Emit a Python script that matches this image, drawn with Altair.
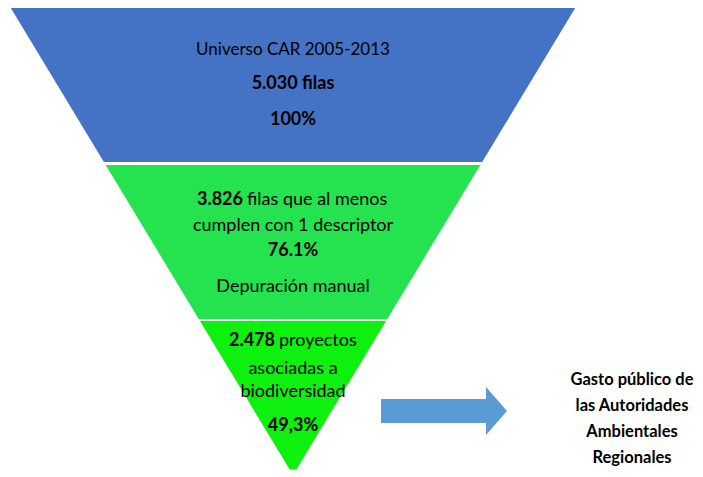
import altair as alt
import pandas as pd

# ---- data ----
band_names = ["universo", "filtrado", "biodiversidad"]
band_colors = ["#4472C4", "#24E34F", "#0EF00E"]
band_top = [5, 165, 321]
band_bottom = [162, 319, 475]

# funnel geometry (inverted triangle)
funnel_center = 293
funnel_top_y = 5
funnel_apex_y = 475
funnel_half_width = 284

# text lines (x, baseline y)
label_x = [293, 293, 293, 243, 247, 293, 293, 293, 275, 279, 293, 293, 293,
           632, 632, 632, 632]
label_y = [55, 89, 125, 205, 205, 231, 256, 292, 346, 346, 374, 397, 431,
           385, 411, 437, 463]
label_text = ["Universo CAR 2005-2013", "5.030 filas", "100%",
              "3.826", "filas que al menos", "cumplen con 1 descriptor", "76.1%",
              "Depuración manual",
              "2.478", "proyectos", "asociadas a", "biodiversidad", "49,3%",
              "Gasto público de", "las Autoridades", "Ambientales", "Regionales"]
label_bold = [False, True, True, True, False, False, True, False,
              True, False, False, False, True, True, True, True, True]
label_align = ["center", "center", "center", "right", "left", "center", "center",
               "center", "right", "left", "center", "center", "center",
               "center", "center", "center", "center"]
label_size = [17, 18, 18, 18, 18, 18, 18, 18, 18, 18, 18, 18, 18,
              16.5, 16.5, 16.5, 16.5]

# arrow
arrow_body_x = [381, 487]
arrow_body_y = [399, 423]
arrow_head_x = [486, 507]
arrow_head_y_top = [387, 411]
arrow_head_y_bot = [435, 411]
arrow_color = "#5B9BD5"

FONT = "Lato"

# ---- build tables ----
def half(y):
    return funnel_half_width * (funnel_apex_y - y) / (funnel_apex_y - funnel_top_y)

rows = []
for n, t, b in zip(band_names, band_top, band_bottom):
    for yy in (t, b):
        rows.append({"band": n, "y": yy, "xl": funnel_center - half(yy),
                     "xr": funnel_center + half(yy)})
funnel_df = pd.DataFrame(rows)

labels = pd.DataFrame({"x": label_x, "y": label_y, "label": label_text,
                       "isbold": label_bold, "anchor": label_align,
                       "fs": label_size})

# 1:1 mapping of reference pixels (page has an 8px margin)
xs = alt.Scale(domain=[8, 695])
ys = alt.Scale(domain=[8, 469], reverse=True)

funnel = alt.Chart(funnel_df).mark_area(orient="horizontal").encode(
    y=alt.Y("y:Q", scale=ys, axis=None),
    x=alt.X("xl:Q", scale=xs, axis=None),
    x2="xr:Q",
    detail="band:N",
    color=alt.Color("band:N", scale=alt.Scale(domain=band_names, range=band_colors),
                    legend=None),
)

body_df = pd.DataFrame({"x": [arrow_body_x[0]], "x2": [arrow_body_x[1]],
                        "y": [arrow_body_y[0]], "y2": [arrow_body_y[1]]})
body = alt.Chart(body_df).mark_rect(color=arrow_color).encode(
    x=alt.X("x:Q", scale=xs, axis=None), x2="x2:Q",
    y=alt.Y("y:Q", scale=ys, axis=None), y2="y2:Q",
)
head_df = pd.DataFrame({"x": arrow_head_x, "y": arrow_head_y_top, "y2": arrow_head_y_bot})
head = alt.Chart(head_df).mark_area(color=arrow_color, orient="vertical").encode(
    x=alt.X("x:Q", scale=xs, axis=None),
    y=alt.Y("y:Q", scale=ys, axis=None), y2="y2:Q",
)

text_layers = []
for bold in (True, False):
    for al in ("center", "left", "right"):
        sub = labels[(labels["isbold"] == bold) & (labels["anchor"] == al)]
        if len(sub) == 0:
            continue
        text_layers.append(
            alt.Chart(sub.reset_index(drop=True)).mark_text(
                align=al, baseline="alphabetic", font=FONT,
                fontWeight="bold" if bold else "normal", color="#000000",
            ).encode(
                x=alt.X("x:Q", scale=xs, axis=None),
                y=alt.Y("y:Q", scale=ys, axis=None),
                text="label:N",
                size=alt.Size("fs:Q", scale=None, legend=None),
            )
        )

chart = alt.layer(funnel, body, head, *text_layers).properties(
    width=687, height=461, padding=0, autosize=alt.AutoSizeParams(type="none"),
).configure_view(stroke=None)

chart.save("out.html", embed_options={"renderer": "svg", "actions": False})
